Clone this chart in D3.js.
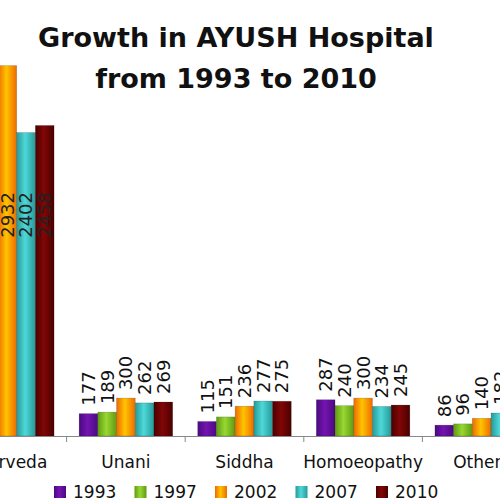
<!DOCTYPE html>
<meta charset="utf-8">
<script src="https://d3js.org/d3.v7.min.js"></script>
<body style="margin:0;background:white">
<div id="chart"></div>
</body>
<script>
    // data
    const categories = ["Ayurveda", "Unani", "Siddha", "Homoeopathy", "Others"];
    const years = ["1993", "1997", "2002", "2007", "2010"];
    const v1993 = [1989, 177, 115, 287, 86];
    const v1997 = [2183, 189, 151, 240, 96];
    const v2002 = [2932, 300, 236, 300, 140];
    const v2007 = [2402, 262, 277, 234, 182];
    const v2010 = [2458, 269, 275, 245, 205];
    const series = [v1993, v1997, v2002, v2007, v2010];

    // edge / middle colours for the shaded bars
    const edgeColors = ["#4a0a80", "#5f9a12", "#ee6a00", "#259a9a", "#4a0000"];
    const midColors  = ["#7414b0", "#98d832", "#ffc400", "#4fd8d8", "#820606"];

    const width = 500, height = 500;

    const svg = d3.select("#chart")
      .append("svg")
        .attr("width", width)
        .attr("height", height)
        .style("overflow", "hidden");

    // gradients, one per year
    const defs = svg.append("defs");
    years.forEach((y, i) => {
      const g = defs.append("linearGradient")
        .attr("id", "grad" + y)
        .attr("x1", "0").attr("x2", "1").attr("y1", "0").attr("y2", "0");
      g.append("stop").attr("offset", "0%").attr("stop-color", edgeColors[i]);
      g.append("stop").attr("offset", "45%").attr("stop-color", midColors[i]);
      g.append("stop").attr("offset", "100%").attr("stop-color", edgeColors[i]);
    });

    // the chart is cropped at both sides, so the band range spills past the frame
    const x0 = d3.scaleBand()
      .domain(categories)
      .range([-52, 541])
      .padding(0);

    const x1 = d3.scaleBand()
      .domain(years)
      .range([0, x0.bandwidth()])
      .paddingInner(0)
      .paddingOuter(0.67);

    const y = d3.scaleLinear()
      .domain([0, 3000])
      .range([436, 57]);

    // title
    const title = svg.append("text")
      .attr("x", 236)
      .attr("text-anchor", "middle")
      .style("font-family", "DejaVu Sans")
      .style("font-weight", "bold")
      .style("font-size", "27px")
      .style("fill", "#111");
    title.append("tspan").attr("x", 236).attr("y", 47).text("Growth in AYUSH Hospital");
    title.append("tspan").attr("x", 236).attr("y", 88).text("from 1993 to 2010");

    // bars
    const groups = svg.selectAll("g.cat")
      .data(categories)
      .join("g")
        .attr("class", "cat")
        .attr("transform", d => `translate(${x0(d)},0)`);

    groups.selectAll("rect")
      .data((d, ci) => years.map((yr, si) => ({yr: yr, v: series[si][ci]})))
      .join("rect")
        .attr("x", d => x1(d.yr))
        .attr("width", x1.bandwidth())
        .attr("y", d => y(d.v))
        .attr("height", d => y(0) - y(d.v))
        .attr("fill", d => "url(#grad" + d.yr + ")")
        .attr("stroke", "rgba(0,0,0,0.25)")
        .attr("stroke-width", 0.6);

    // value labels, rotated; big Ayurveda bars carry theirs inside
    groups.selectAll("text.val")
      .data((d, ci) => years.map((yr, si) => ({yr: yr, v: series[si][ci]})))
      .join("text")
        .attr("class", "val")
        .attr("transform", d => {
          const cx = x1(d.yr) + x1.bandwidth() / 2;
          const cy = d.v > 2000 ? y(1750) : y(d.v) - 8;
          return `translate(${cx},${cy}) rotate(-90)`;
        })
        .attr("dy", "0.36em")
        .attr("text-anchor", d => d.v > 2000 ? "middle" : "start")
        .style("font-family", "DejaVu Sans")
        .style("font-size", "18px")
        .style("fill", d => d.v > 2000 ? "#222" : "#111")
        .text(d => d.v);

    // axis
    const axis = svg.append("g")
      .attr("transform", "translate(0,436)")
      .call(d3.axisBottom(x0).tickSizeInner(0).tickSizeOuter(0).tickPadding(20));
    axis.select(".domain").attr("stroke", "#888");
    axis.selectAll("text")
      .style("font-family", "DejaVu Sans")
      .style("font-size", "17px")
      .style("fill", "#111");

    // tick marks at the category boundaries
    svg.selectAll("line.bound")
      .data(categories.slice(1))
      .join("line")
        .attr("class", "bound")
        .attr("x1", d => x0(d)).attr("x2", d => x0(d))
        .attr("y1", 436).attr("y2", 442)
        .attr("stroke", "#888");

    // legend
    const legend = svg.selectAll("g.leg")
      .data(years)
      .join("g")
        .attr("class", "leg")
        .attr("transform", (d, i) => `translate(${54 + i * 80.5},486)`);
    legend.append("rect")
      .attr("width", 12).attr("height", 12)
      .attr("fill", d => "url(#grad" + d + ")");
    legend.append("text")
      .attr("x", 19).attr("y", 12)
      .style("font-family", "DejaVu Sans")
      .style("font-size", "17px")
      .style("fill", "#111")
      .text(d => d);
</script>
